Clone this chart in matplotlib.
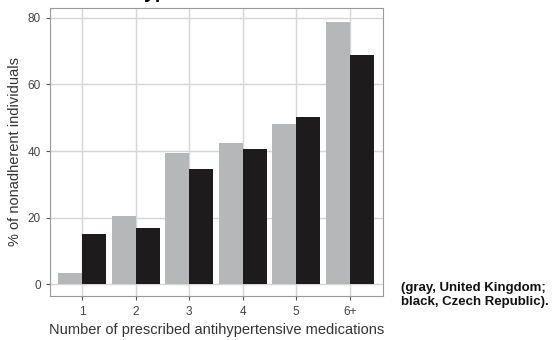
import matplotlib
matplotlib.use("Agg")
import matplotlib.pyplot as plt
import numpy as np

plt.rcParams['font.family'] = ['Liberation Sans', 'DejaVu Sans']

categories = ["1", "2", "3", "4", "5", "6+"]
uk_values = [3.3, 20.5, 39.4, 42.4, 48.1, 78.8]
cz_values = [15.0, 16.8, 34.6, 40.6, 50.2, 68.9]
y_ticks = [0, 20, 40, 60, 80]

W, H = 558, 340
fig = plt.figure(figsize=(W / 100, H / 100), dpi=100)
ax = fig.add_axes([50 / W, 1 - 296 / H, (383 - 50) / W, (296 - 8) / H])

x = np.arange(1, len(categories) + 1)
bw = 0.45
ax.bar(x - bw / 2, uk_values, width=bw, color="#b5b7b9", zorder=3)
ax.bar(x + bw / 2, cz_values, width=bw, color="#1d1b1b", zorder=3)

ax.set_xlim(0.40, 6.62)
ax.set_ylim(-3.6, 83)
ax.set_xticks(x)
ax.set_xticklabels(categories)
ax.set_yticks(y_ticks)
ax.grid(True, color="#d6d6d6", linewidth=1.0, zorder=0)
for s in ax.spines.values():
    s.set_color("#9a9a9a")
    s.set_linewidth(0.8)
ax.tick_params(axis="both", colors="#555555", labelcolor="#444444",
               labelsize=8.5, length=3, width=0.8)
ax.tick_params(axis="x", pad=4)

ax.set_ylabel("% of nonadherent individuals", fontsize=10.5, color="#333333", labelpad=4)
ax.set_xlabel("Number of prescribed antihypertensive medications", fontsize=10.5,
              color="#333333", labelpad=4)

fig.text(131 / W, 1 + 1.5 / H, "Hypertension", fontsize=14, fontweight="bold",
         va="baseline", ha="left", color="black")

fig.text(401 / W, 1 - 295 / H, "(gray, United Kingdom;\nblack, Czech Republic).",
         fontsize=9.5, fontweight="bold", va="center", ha="left",
         color="#111111", linespacing=1.25)

fig.savefig("out.png", dpi=100)
